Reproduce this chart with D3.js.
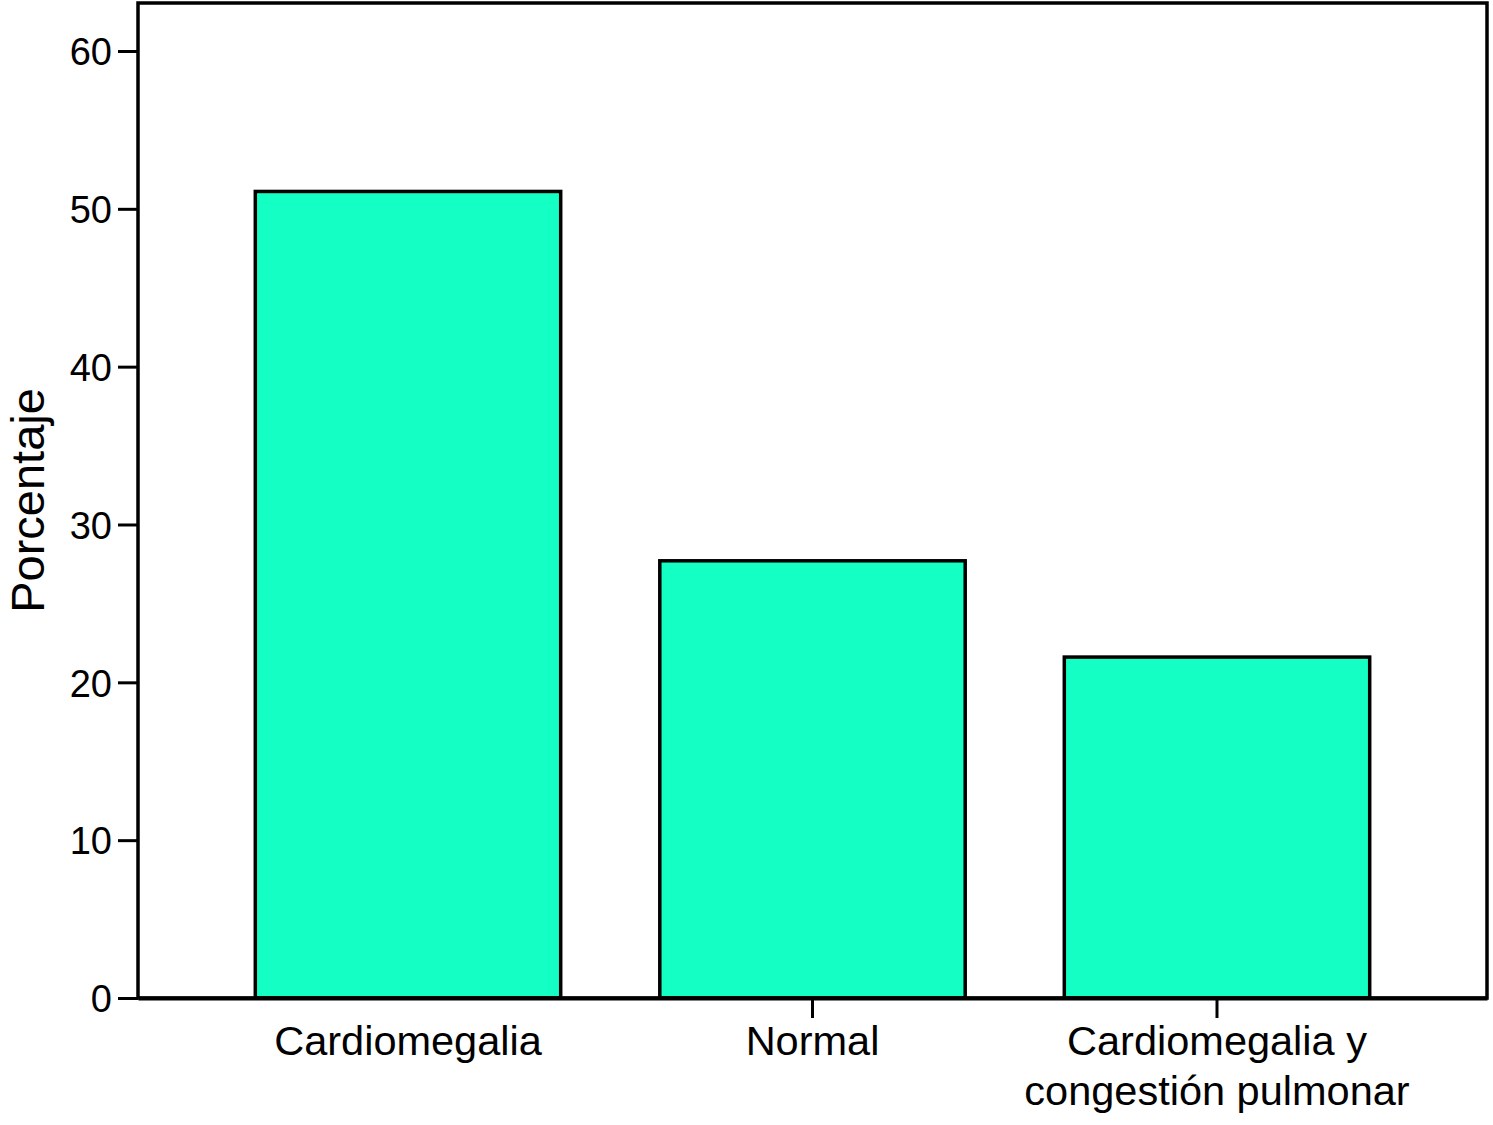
<!DOCTYPE html>
<html><head><meta charset="utf-8">
<script src="https://cdn.jsdelivr.net/npm/d3@7"></script>
<style>body{margin:0;background:#fff}svg{display:block}text{font-family:"Liberation Sans",Arial,Helvetica,sans-serif;fill:#000}</style>
</head><body>
<script>
const categories = ["Cardiomegalia", "Normal", "Cardiomegalia y\ncongestión pulmonar"];
const values = [51.1, 27.7, 21.6];
const yTicks = [0, 10, 20, 30, 40, 50, 60];
const yLabel = "Porcentaje";

const W = 1493, H = 1125;
const m = {left: 138, right: 6, top: 3, bottom: 127};
const svg = d3.select("body").append("svg").attr("width", W).attr("height", H);

const x = d3.scaleBand().domain(categories).range([m.left, W - m.right])
  .paddingInner(0.245).paddingOuter(0.29).align(0.5);
const y = d3.scaleLinear().domain([0, 63.04]).range([H - m.bottom, m.top]);

// bars
svg.selectAll("rect.bar").data(values).join("rect")
  .attr("class", "bar")
  .attr("x", (d, i) => x(categories[i]))
  .attr("width", x.bandwidth())
  .attr("y", d => y(d))
  .attr("height", d => y(0) - y(d))
  .attr("fill", "#14ffc4").attr("stroke", "#000").attr("stroke-width", 3.5);

// frame
svg.append("rect").attr("x", m.left).attr("y", m.top)
  .attr("width", W - m.right - m.left).attr("height", y(0) - m.top)
  .attr("fill", "none").attr("stroke", "#000").attr("stroke-width", 3.5);

// y axis
const ya = svg.append("g").attr("transform", `translate(${m.left},0)`)
  .call(d3.axisLeft(y).tickValues(yTicks).tickSize(20).tickPadding(6).tickFormat(d3.format("d")));
ya.select(".domain").remove();
ya.selectAll(".tick line").attr("stroke", "#000").attr("stroke-width", 3);
ya.selectAll(".tick text").style("font-size", "38px").attr("dy", "0.36em");

// x axis
const xa = svg.append("g").attr("transform", `translate(0,${y(0)})`)
  .call(d3.axisBottom(x).tickSize(20).tickSizeOuter(0).tickFormat(""));
xa.select(".domain").attr("stroke", "#000").attr("stroke-width", 4);
xa.selectAll(".tick line").attr("stroke", "#000").attr("stroke-width", 3)
  .attr("display", (d, i) => i === 0 ? "none" : null);
xa.selectAll(".tick").each(function(d) {
  const lines = d.split("\n");
  const t = d3.select(this).append("text").attr("text-anchor", "middle").style("font-size", "41.5px");
  lines.forEach((l, j) => t.append("tspan").attr("x", 0).attr("y", 57 + j * 50).text(l));
});

// y label
svg.append("text").attr("transform", `translate(44,${(y(0) + m.top) / 2}) rotate(-90)`)
  .attr("text-anchor", "middle").style("font-size", "47px").text(yLabel);
</script>
</body></html>
